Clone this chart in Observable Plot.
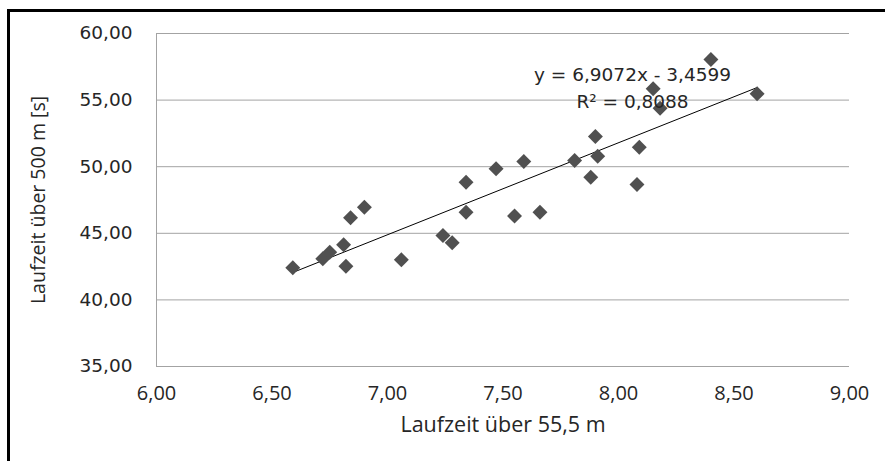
<!DOCTYPE html>
<html>
<head>
<meta charset="utf-8">
<script src="https://cdn.jsdelivr.net/npm/d3@7"></script>
<script src="https://cdn.jsdelivr.net/npm/@observablehq/plot@0.6"></script>
<style>
  html, body { margin: 0; padding: 0; background: #fff; }
  #wrap { position: relative; width: 885px; height: 461px; overflow: hidden; }
  #frame { position: absolute; left: 7px; top: 9px; width: 900px; height: 470px;
           border-left: 3px solid #000; border-top: 3px solid #000; box-sizing: border-box; pointer-events: none; }
  #chart { position: absolute; left: 0; top: 0; }
</style>
</head>
<body>
<div id="wrap"><div id="chart"></div><div id="frame"></div></div>
<script>
// Data: Laufzeit über 55,5 m (x) vs Laufzeit über 500 m [s] (y)
const time55 = [6.59, 6.72, 6.75, 6.81, 6.82, 6.84, 6.90, 7.06, 7.24, 7.28, 7.34, 7.34, 7.47,
                7.55, 7.59, 7.66, 7.81, 7.90, 7.91, 7.88, 8.09, 8.08, 8.15, 8.18, 8.40, 8.60];
const time500 = [42.41, 43.09, 43.58, 44.14, 42.53, 46.16, 46.96, 43.01, 44.83, 44.29, 48.84, 46.58, 49.84,
                 46.30, 50.39, 46.58, 50.47, 52.27, 50.79, 49.21, 51.46, 48.66, 55.85, 54.39, 58.05, 55.47];
const slope = 6.9072;
const intercept = -3.4599;
const rSquared = 0.8088;
const xTicks = [6.0, 6.5, 7.0, 7.5, 8.0, 8.5, 9.0];
const yTicks = [35, 40, 45, 50, 55, 60];
const xTitle = "Laufzeit über 55,5 m";
const yTitle = "Laufzeit über 500 m [s]";

const de = d3.formatLocale({decimal: ",", thousands: ".", grouping: [3], currency: ["", " €"]});
const f2 = de.format(".2f");
const f4 = de.format(".4f");

const points = time55.map((x, i) => ({x, y: time500[i]}));
const xr = d3.extent(time55);
const trend = xr.map(x => ({x, y: slope * x + intercept}));
const eq1 = `y = ${f4(slope)}x - ${f4(-intercept)}`;
const eq2 = `R² = ${f4(rSquared)}`;

const diamond = {
  draw(ctx, size) {
    const r = Math.sqrt(size / Math.PI) * 1.1;
    ctx.moveTo(0, -r); ctx.lineTo(r, 0); ctx.lineTo(0, r); ctx.lineTo(-r, 0); ctx.closePath();
  }
};

const chart = Plot.plot({
  width: 885,
  height: 461,
  marginLeft: 156,
  marginRight: 36,
  marginTop: 33,
  marginBottom: 95,
  style: {background: "transparent", overflow: "visible"},
  x: {domain: [6, 9]},
  y: {domain: [35, 60]},
  marks: [
    Plot.ruleY(yTicks, {stroke: "#a3a3a3", strokeWidth: 1}),
    Plot.ruleX([6], {stroke: "#a3a3a3", strokeWidth: 1}),
    Plot.axisY({ticks: yTicks, tickFormat: f2, tickSize: 0, tickPadding: 24, label: null,
                fontFamily: "DejaVu Sans", fontSize: 18.5, fill: "#262626"}),
    Plot.axisX({ticks: xTicks, tickFormat: f2, tickSize: 0, tickPadding: 19, label: null,
                fontFamily: "Open Sans", fontSize: 20, fill: "#262626", style: {letterSpacing: "1.2px"}}),
    Plot.text([xTitle], {frameAnchor: "bottom", dy: 59, lineAnchor: "middle", textAnchor: "middle",
                fontFamily: "Open Sans", fontSize: 21.5, fill: "#262626"}),
    Plot.text([yTitle], {frameAnchor: "left", dx: -118, rotate: -90, lineAnchor: "middle", textAnchor: "middle",
                fontFamily: "Open Sans", fontSize: 19.5, fill: "#262626"}),
    Plot.line(trend, {x: "x", y: "y", stroke: "#000", strokeWidth: 1}),
    Plot.dot(points, {x: "x", y: "y", symbol: diamond, r: 6.8, fill: "#505050", stroke: "none"}),
    Plot.text([eq1], {frameAnchor: "top-left", dx: 476, dy: 42, lineAnchor: "middle", textAnchor: "middle",
                fontFamily: "DejaVu Sans", fontSize: 18.5, fill: "#262626"}),
    Plot.text([eq2], {frameAnchor: "top-left", dx: 476, dy: 69, lineAnchor: "middle", textAnchor: "middle",
                fontFamily: "DejaVu Sans", fontSize: 18.5, fill: "#262626"})
  ]
});
document.getElementById("chart").appendChild(chart);
</script>
</body>
</html>
